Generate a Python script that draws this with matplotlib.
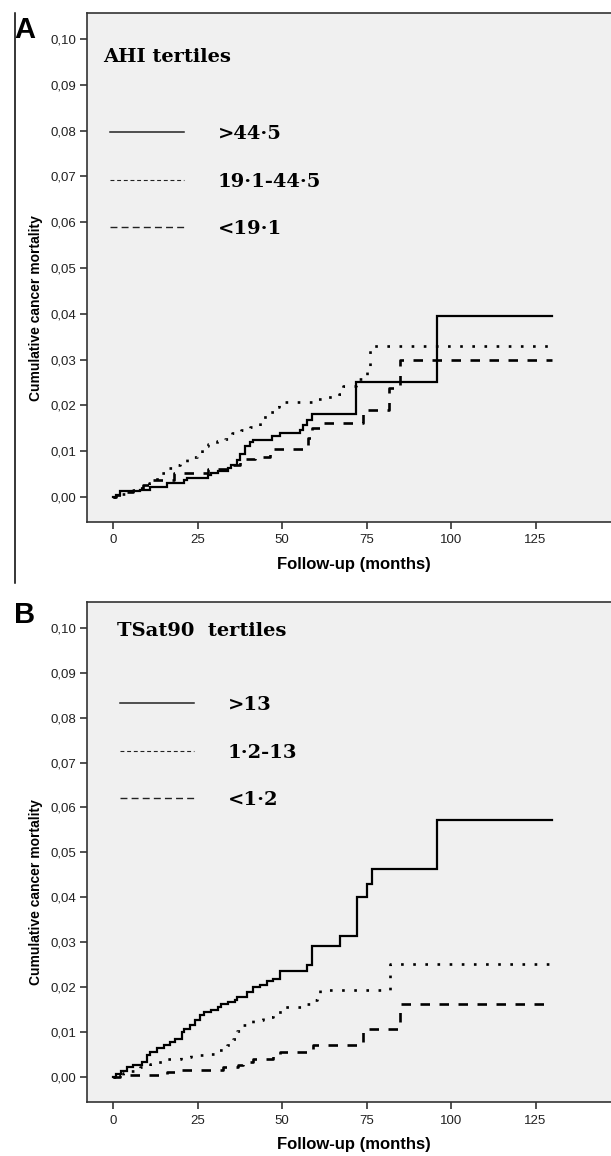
import numpy as np
import matplotlib.pyplot as plt
from matplotlib.lines import Line2D

###############################################################################
###                       DATA
###############################################################################
# panel A, AHI tertiles : step times (months) and cumulative cancer mortality
a_high_t = [0, 1, 2, 8, 11, 16, 21, 22, 28, 29, 31, 34, 35, 36.6, 37.6, 39, 40.5,
            41.5, 47, 49.4, 55.3, 56.3, 57.3, 58.8, 72, 96, 130]
a_high_v = [0, 0.0004, 0.0012, 0.0015, 0.0022, 0.0030, 0.0037, 0.0041, 0.0047,
            0.0052, 0.0056, 0.0062, 0.0070, 0.0081, 0.0094, 0.0110, 0.0120,
            0.0125, 0.0132, 0.0140, 0.0145, 0.0157, 0.0168, 0.0181, 0.0250,
            0.0396, 0.0396]

a_mid_t = [0, 2, 5, 8, 10.5, 12, 13.5, 15.4, 17.8, 19.8, 21.8, 24.8, 26.2, 28,
           30.7, 33, 35.1, 38, 40.5, 43.5, 46, 48.4, 49.2, 59.3, 62, 67, 68.1,
           72, 75, 76, 130]
a_mid_v = [0, 0.0007, 0.0012, 0.0020, 0.0030, 0.0040, 0.0051, 0.0062, 0.0070,
           0.0077, 0.0088, 0.0095, 0.0110, 0.0115, 0.0121, 0.0126, 0.0140,
           0.0145, 0.0152, 0.0175, 0.0185, 0.0197, 0.0208, 0.0213, 0.0218,
           0.0225, 0.0243, 0.0258, 0.0285, 0.0330, 0.0330]

a_low_t = [0, 1, 3, 6, 9, 11, 18, 28, 34, 37.6, 42, 46.5, 57.8, 59, 61.5, 74,
           81.6, 85, 130]
a_low_v = [0, 0.0005, 0.0010, 0.0015, 0.0025, 0.0037, 0.0053, 0.0060, 0.0069,
           0.0083, 0.0088, 0.0105, 0.0128, 0.0150, 0.0162, 0.0190, 0.0237,
           0.0299, 0.0299]

# panel B, TSat90 tertiles
b_high_t = [0, 1, 2.5, 4, 6, 8.5, 10, 11, 13, 15, 17, 18.3, 20.3, 21, 22.8, 24.3,
            25.7, 27, 29, 31, 32, 34, 36, 36.6, 39.5, 41.5, 43.5, 45.5, 47.4,
            49.4, 57.5, 58.8, 67.2, 72.1, 75, 76.5, 96, 130]
b_high_v = [0, 0.0008, 0.0015, 0.0022, 0.0028, 0.0034, 0.0049, 0.0056, 0.0064,
            0.0071, 0.0078, 0.0086, 0.0101, 0.0108, 0.0116, 0.0127, 0.0138,
            0.0145, 0.0150, 0.0157, 0.0164, 0.0168, 0.0172, 0.0179, 0.0190,
            0.0200, 0.0206, 0.0213, 0.0219, 0.0236, 0.0250, 0.0293, 0.0314,
            0.0401, 0.0430, 0.0464, 0.0573, 0.0573]

b_mid_t = [0, 1, 3, 5, 8, 11, 12, 16, 20, 23, 26.7, 30.7, 33.6, 35.6, 36.6, 38.6,
           41.5, 44.5, 47.4, 50.4, 56.3, 58.3, 60.3, 61.2, 82, 130]
b_mid_v = [0, 0.0005, 0.0010, 0.0015, 0.0022, 0.0030, 0.0034, 0.0041, 0.0045,
           0.0049, 0.0052, 0.0060, 0.0071, 0.0086, 0.0104, 0.0116, 0.0127,
           0.0134, 0.0145, 0.0156, 0.0164, 0.0171, 0.0182, 0.0195, 0.0253,
           0.0253]

b_low_t = [0, 2, 15.9, 18.8, 32.6, 37, 38.6, 41.5, 47.4, 49.4, 59.3, 74, 85, 130]
b_low_v = [0, 0.0004, 0.0012, 0.0017, 0.0022, 0.0028, 0.0034, 0.0041, 0.0052,
           0.0056, 0.0071, 0.0108, 0.0164, 0.0164]

a_labels = ['>44·5', '19·1-44·5', '<19·1']
b_labels = ['>13', '1·2-13', '<1·2']
x_ticks = [0, 25, 50, 75, 100, 125]
y_ticks = np.arange(0, 0.101, 0.01)

###############################################################################
###                              STYLE
###############################################################################
plt.rcParams['font.family'] = ['Liberation Sans', 'DejaVu Sans']
styles = [dict(ls='-', lw=1.6),
          dict(ls=(0, (1.0, 3.6)), lw=1.9),
          dict(ls=(0, (3.6, 3.6)), lw=1.9)]
leg_styles = [dict(ls='-', lw=1.1),
              dict(ls=(0, (3.5, 2.5)), lw=0.8),
              dict(ls=(0, (5, 3)), lw=1.0)]
serif = dict(family='DejaVu Serif', weight='bold', size=14)

fig = plt.figure(figsize=(6.11, 11.56), dpi=100)

W, H = 611, 1156
left_px, right_px = 87, 620


def make_axes(top_px, bot_px):
    return fig.add_axes([left_px / W, 1 - bot_px / H,
                         (right_px - left_px) / W, (bot_px - top_px) / H])


def draw_panel(ax, curves, labels, title, title_xy, leg_xy):
    ax.set_facecolor('#f0f0f0')
    for (t, v), st in zip(curves, styles):
        ax.step(t, v, where='post', color='black', dash_capstyle='butt',
                solid_joinstyle='miter', **st)
    ax.set_xlim(-7.7, 150)
    ax.set_ylim(-0.0055, 0.1057)
    ax.set_xticks(x_ticks)
    ax.set_yticks(y_ticks)
    ax.set_yticklabels([f'{v:.2f}'.replace('.', ',') for v in y_ticks])
    ax.tick_params(length=5, width=1.2, labelsize=9.5,
                   color='#333333', labelcolor='#222222')
    ax.tick_params(axis='x', pad=4)
    ax.tick_params(axis='y', pad=2.5)
    for s in ['left', 'bottom', 'top']:
        ax.spines[s].set_color('#333333')
        ax.spines[s].set_linewidth(1.2)
    ax.spines['right'].set_visible(False)
    ax.set_ylabel('Cumulative cancer mortality', fontsize=10, fontweight='bold')
    ax.set_xlabel('Follow-up (months)', fontsize=12, fontweight='bold')
    # label sits a bit below the middle of the axis, as in the original
    ax.yaxis.set_label_coords(-51 / (right_px - left_px), 0.42)
    ax.yaxis.label.set_va('center')
    ax.xaxis.label.set_va('center')
    ax.text(title_xy[0], title_xy[1], title, transform=ax.transAxes,
            va='center', ha='left', **serif)
    handles = [Line2D([], [], color='#222222', **st) for st in leg_styles]
    ax.legend(handles, labels, loc='upper left', bbox_to_anchor=leg_xy,
              frameon=False, prop=serif, handlelength=3.8, handletextpad=1.75,
              labelspacing=1.52, borderpad=0, borderaxespad=0)


axA = make_axes(13, 522)
draw_panel(axA, [(a_high_t, a_high_v), (a_mid_t, a_mid_v), (a_low_t, a_low_v)],
           a_labels, 'AHI tertiles', (0.03, 0.914), (0.043, 0.780))
axA.xaxis.set_label_coords(0.5, -43 / 509)

axB = make_axes(602, 1102)
draw_panel(axB, [(b_high_t, b_high_v), (b_mid_t, b_mid_v), (b_low_t, b_low_v)],
           b_labels, 'TSat90  tertiles', (0.056, 0.942), (0.062, 0.812))
axB.xaxis.set_label_coords(0.5, -43 / 500)

# panel letters and left border line
fig.text(14 / W, 1 - 38 / H, 'A', fontsize=21, fontweight='bold', va='baseline')
fig.text(14 / W, 1 - 623 / H, 'B', fontsize=21, fontweight='bold', va='baseline')
fig.add_artist(Line2D([15 / W, 15 / W], [1 - 13 / H, 1 - 583 / H],
                      color='black', lw=1.1))

fig.savefig('out.png', dpi=100)
